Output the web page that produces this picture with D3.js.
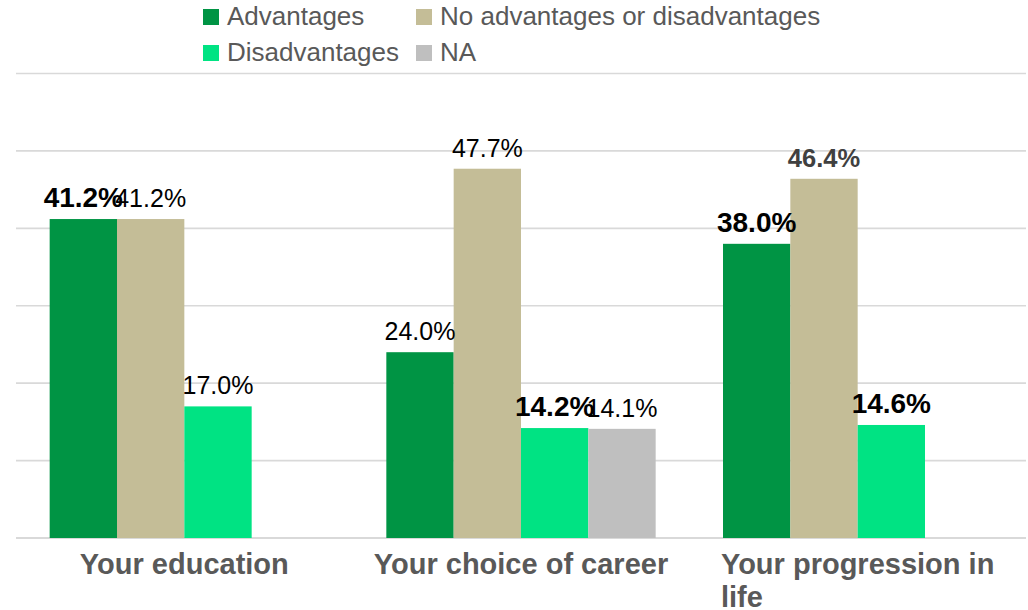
<!DOCTYPE html>
<html>
<head>
<meta charset="utf-8">
<script src="https://cdn.jsdelivr.net/npm/d3@7"></script>
<style>
  body { margin: 0; background: #fff; }
  svg { display: block; font-family: "Liberation Sans", Arial, sans-serif; }
</style>
</head>
<body>
<script>
// data
const categories = ["Your education", "Your choice of career", "Your progression in life"];
const seriesNames = ["Advantages", "No advantages or disadvantages", "Disadvantages", "NA"];
const advantages = [41.2, 24.0, 38.0];
const noAdvantages = [41.2, 47.7, 46.4];
const disadvantages = [17.0, 14.2, 14.6];
const notAnswered = [null, 14.1, null];
const yTicks = [0, 10, 20, 30, 40, 50, 60];

// label emphasis (style only)
const labelStyle = {
  "Advantages|Your education": "bold",
  "Advantages|Your progression in life": "bold",
  "Disadvantages|Your choice of career": "bold",
  "Disadvantages|Your progression in life": "bold",
  "No advantages or disadvantages|Your progression in life": "boldgray"
};

const WIDTH = 1028, HEIGHT = 610;
const colors = ["#009444", "#c4bd97", "#00e383", "#bfbfbf"];
const allValues = [advantages, noAdvantages, disadvantages, notAnswered];

const svg = d3.select("body").append("svg")
  .attr("width", WIDTH).attr("height", HEIGHT);

const x0 = d3.scaleBand().domain(categories).range([16, 1026])
  .paddingInner(0.2).paddingOuter(0.1);
const x1 = d3.scaleBand().domain(seriesNames).range([0, x0.bandwidth()]);
const y = d3.scaleLinear().domain([0, 60]).range([538, 73.5]);

// gridlines
svg.append("g").selectAll("line")
  .data(yTicks)
  .enter().append("line")
  .attr("x1", 16).attr("x2", 1026)
  .attr("y1", d => y(d)).attr("y2", d => y(d))
  .attr("stroke", "#d9d9d9")
  .attr("stroke-width", d => d === 0 ? 2.2 : 1.6);

// bars
const rows = [];
seriesNames.forEach((s, i) => {
  categories.forEach((c, j) => {
    const v = allValues[i][j];
    if (v != null) rows.push({ series: s, cat: c, value: v, color: colors[i] });
  });
});

svg.append("g").selectAll("rect")
  .data(rows)
  .enter().append("rect")
  .attr("x", d => x0(d.cat) + x1(d.series))
  .attr("y", d => y(d.value))
  .attr("width", x1.bandwidth())
  .attr("height", d => y(0) - y(d.value))
  .attr("fill", d => d.color);

// value labels
svg.append("g").selectAll("text")
  .data(rows)
  .enter().append("text")
  .attr("x", d => x0(d.cat) + x1(d.series) + x1.bandwidth() / 2)
  .attr("y", d => y(d.value) - 12)
  .attr("text-anchor", "middle")
  .each(function(d) {
    const st = labelStyle[d.series + "|" + d.cat];
    const t = d3.select(this);
    if (st === "bold") t.attr("font-weight", "bold").attr("font-size", 28).attr("fill", "#000");
    else if (st === "boldgray") t.attr("font-weight", "bold").attr("font-size", 25.5).attr("fill", "#404040");
    else t.attr("font-size", 25).attr("fill", "#000");
  })
  .text(d => d.value.toFixed(1) + "%");

// category labels, wrapped, lines left aligned inside a centred block
const maxW = 305;
categories.forEach(c => {
  const g = svg.append("text")
    .attr("font-size", 29).attr("font-weight", "bold").attr("fill", "#595959");
  const words = c.split(" ");
  const lines = [];
  let line = [];
  const probe = g.append("tspan");
  words.forEach(w => {
    line.push(w);
    probe.text(line.join(" "));
    if (probe.node().getComputedTextLength() > maxW && line.length > 1) {
      line.pop();
      lines.push(line.join(" "));
      line = [w];
    }
  });
  lines.push(line.join(" "));
  let widest = 0;
  lines.forEach(l => {
    probe.text(l);
    widest = Math.max(widest, probe.node().getComputedTextLength());
  });
  probe.remove();
  const left = x0(c) + x0.bandwidth() / 2 - widest / 2;
  lines.forEach((l, i) => {
    g.append("tspan").attr("x", left).attr("y", 574 + i * 33).text(l);
  });
});

// legend
const legendPos = [[203, 9], [416, 9], [203, 45], [416, 45]];
const legend = svg.append("g").selectAll("g")
  .data(seriesNames)
  .enter().append("g")
  .attr("transform", (d, i) => "translate(" + legendPos[i] + ")");
legend.append("rect")
  .attr("width", 16).attr("height", 16)
  .attr("fill", (d, i) => colors[i]);
legend.append("text")
  .attr("x", 24).attr("y", 16)
  .attr("font-size", 26).attr("fill", "#595959")
  .text(d => d);
</script>
</body>
</html>
